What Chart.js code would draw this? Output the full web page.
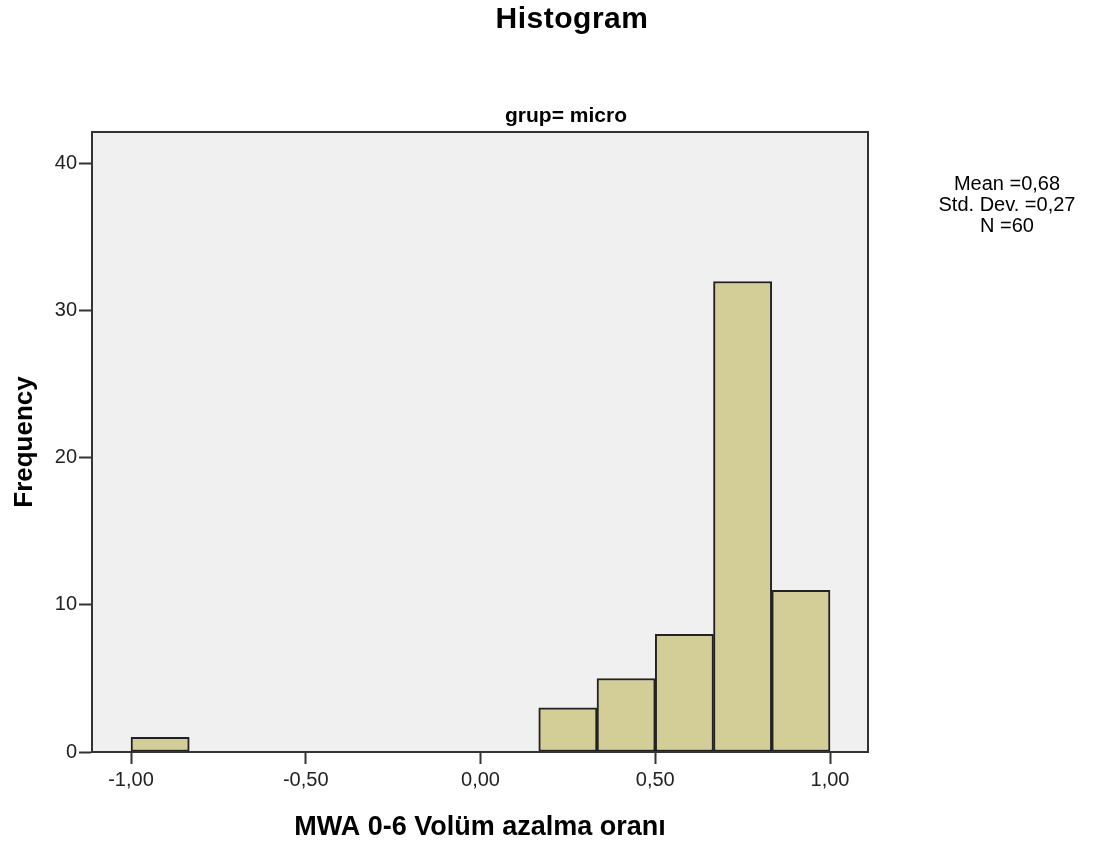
<!DOCTYPE html>
<html lang="tr">
<head>
<meta charset="utf-8" />
<title>Histogram</title>
<script src="https://cdn.jsdelivr.net/npm/chart.js@4.4.1/dist/chart.umd.min.js"></script>
<style>
  body { margin: 0; background: #fff; font-family: "Liberation Sans", Arial, sans-serif; }
  #wrap { position: relative; width: 1093px; height: 846px; }
  .txt { position: absolute; color: #000; white-space: nowrap; transform: translate(-50%, -50%); text-align: center; }
  #title { left: 572px; top: 18px; font-size: 30px; font-weight: bold; letter-spacing: 0.5px; }
  #panel { left: 566px; top: 115px; font-size: 21px; font-weight: bold; }
  #stats { left: 1007px; top: 204px; font-size: 20px; line-height: 21px; }
</style>
</head>
<body>
<div id="wrap">
  <canvas id="myChart" width="1093" height="846"></canvas>
  <div class="txt" id="title">Histogram</div>
  <div class="txt" id="panel">grup= micro</div>
  <div class="txt" id="stats">Mean =0,68<br>Std. Dev. =0,27<br>N =60</div>
</div>
<script>
// bin centres (bin width 1/6) and frequencies
var binCenters = [-0.91667, 0.25, 0.41667, 0.58333, 0.75, 0.91667];
var counts = [1, 3, 5, 8, 32, 11];
var xTicks = [-1, -0.5, 0, 0.5, 1];
var yTicks = [0, 10, 20, 30, 40];

var frame = {
    id: 'frame',
    beforeDraw: function(chart) {
        var a = chart.chartArea, c = chart.ctx;
        c.save();
        c.fillStyle = '#f0f0f0';
        c.fillRect(a.left, a.top, a.right - a.left, a.bottom - a.top);
        c.restore();
    },
    afterDraw: function(chart) {
        var a = chart.chartArea, c = chart.ctx;
        c.save();
        c.strokeStyle = '#333';
        c.lineWidth = 2;
        c.strokeRect(a.left, a.top, a.right - a.left, a.bottom - a.top);
        c.restore();
    }
};

var fmt = function(v) { return v.toFixed(2).replace('.', ','); };

var ctx = document.getElementById('myChart');
var myChart = new Chart(ctx, {
    type: 'bar',
    data: {
        datasets: [{
            data: binCenters.map(function(x, i) { return {x: x, y: counts[i]}; }),
            backgroundColor: '#d3ce97',
            borderColor: '#222',
            borderWidth: 2,
            borderSkipped: false,
            barPercentage: 1,
            categoryPercentage: 1
        }]
    },
    options: {
        responsive: false,
        animation: false,
        devicePixelRatio: 1,
        layout: { padding: { top: 132, right: 225, left: 0, bottom: 0 } },
        plugins: { legend: { display: false }, tooltip: { enabled: false } },
        scales: {
            x: {
                type: 'linear',
                offset: false,
                min: -1.1116,
                max: 1.1087,
                afterBuildTicks: function(s) { s.ticks = xTicks.map(function(v) { return {value: v}; }); },
                afterFit: function(s) { s.height = 94; },
                grid: { offset: false, drawOnChartArea: false, drawTicks: true, tickLength: 12, tickColor: '#333', tickWidth: 2 },
                border: { display: true, color: '#333', width: 2 },
                ticks: { color: '#222', font: { family: 'Liberation Sans', size: 20 }, padding: 4, maxRotation: 0,
                         callback: function(v) { return fmt(v); } },
                title: { display: true, text: 'MWA 0-6 Volüm azalma oranı', color: '#000',
                         font: { family: 'Liberation Sans', size: 27, weight: 'bold' }, padding: { bottom: 2 } }
            },
            y: {
                min: 0,
                max: 42.17,
                afterBuildTicks: function(s) { s.ticks = yTicks.map(function(v) { return {value: v}; }); },
                afterFit: function(s) { s.width = 92; },
                grid: { drawOnChartArea: false, drawTicks: true, tickLength: 13, tickColor: '#333', tickWidth: 2 },
                border: { display: true, color: '#333', width: 2 },
                ticks: { color: '#222', font: { family: 'Liberation Sans', size: 20 }, padding: 2 },
                title: { display: true, text: 'Frequency', color: '#000',
                         font: { family: 'Liberation Sans', size: 26, weight: 'bold' }, padding: { top: 9 } }
            }
        }
    },
    plugins: [frame]
});
</script>
</body>
</html>
